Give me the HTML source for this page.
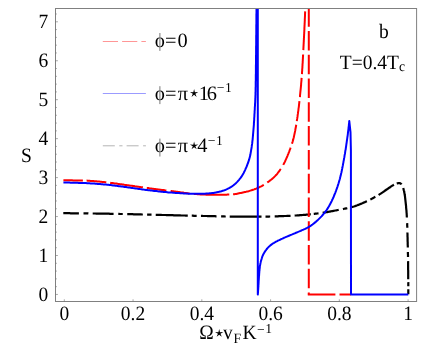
<!DOCTYPE html>
<html><head><meta charset="utf-8"><title>plot</title>
<style>
html,body{margin:0;padding:0;background:#fff;}
svg{display:block;will-change:transform;opacity:0.999;}
text{font-family:"Liberation Serif",serif;font-size:19.5px;fill:#000;text-rendering:geometricPrecision;}
</style></head><body>
<svg width="436" height="353" viewBox="0 0 436 353">
<rect x="0" y="0" width="436" height="353" fill="#fff"/>
<g fill="none" stroke-width="2" stroke-linejoin="round">
<path d="M63.3,213.2 L64.2,213.2 L65.1,213.2 L66.0,213.2 L67.0,213.2 L67.9,213.2 L68.8,213.2 L69.7,213.2 L70.6,213.3 L71.5,213.3 L72.4,213.3 L73.4,213.3 L74.3,213.3 L75.2,213.3 L76.1,213.3 L77.0,213.3 L77.9,213.3 L78.8,213.3 L79.7,213.3 L80.7,213.4 L81.6,213.4 L82.5,213.4 L83.4,213.4 L84.3,213.4 L85.2,213.4 L86.1,213.4 L87.1,213.4 L88.0,213.4 L88.9,213.5 L89.8,213.5 L90.7,213.5 L91.6,213.5 L92.5,213.5 L93.5,213.5 L94.4,213.5 L95.3,213.5 L96.2,213.6 L97.1,213.6 L98.0,213.6 L98.9,213.6 L99.8,213.6 L100.8,213.6 L101.7,213.6 L102.6,213.7 L103.5,213.7 L104.4,213.7 L105.3,213.7 L106.2,213.7 L107.2,213.7 L108.1,213.7 L109.0,213.7 L109.9,213.8 L110.8,213.8 L111.7,213.8 L112.6,213.8 L113.6,213.8 L114.5,213.8 L115.4,213.9 L116.3,213.9 L117.2,213.9 L118.1,213.9 L119.0,213.9 L119.9,214.0 L120.9,214.0 L121.8,214.0 L122.7,214.0 L123.6,214.0 L124.5,214.1 L125.4,214.1 L126.3,214.1 L127.3,214.1 L128.2,214.1 L129.1,214.2 L130.0,214.2 L130.9,214.2 L131.8,214.2 L132.7,214.2 L133.6,214.3 L134.6,214.3 L135.5,214.3 L136.4,214.3 L137.3,214.4 L138.2,214.4 L139.1,214.4 L140.0,214.4 L141.0,214.4 L141.9,214.5 L142.8,214.5 L143.7,214.5 L144.6,214.5 L145.5,214.6 L146.4,214.6 L147.4,214.6 L148.3,214.6 L149.2,214.6 L150.1,214.7 L151.0,214.7 L151.9,214.7 L152.8,214.7 L153.7,214.7 L154.7,214.8 L155.6,214.8 L156.5,214.8 L157.4,214.8 L158.3,214.9 L159.2,214.9 L160.1,214.9 L161.1,214.9 L162.0,215.0 L162.9,215.0 L163.8,215.0 L164.7,215.0 L165.6,215.0 L166.5,215.1 L167.4,215.1 L168.4,215.1 L169.3,215.1 L170.2,215.2 L171.1,215.2 L172.0,215.2 L172.9,215.2 L173.8,215.3 L174.8,215.3 L175.7,215.3 L176.6,215.3 L177.5,215.4 L178.4,215.4 L179.3,215.4 L180.2,215.4 L181.2,215.5 L182.1,215.5 L183.0,215.5 L183.9,215.5 L184.8,215.5 L185.7,215.6 L186.6,215.6 L187.5,215.6 L188.5,215.6 L189.4,215.7 L190.3,215.7 L191.2,215.7 L192.1,215.7 L193.0,215.7 L193.9,215.8 L194.9,215.8 L195.8,215.8 L196.7,215.8 L197.6,215.8 L198.5,215.9 L199.4,215.9 L200.3,215.9 L201.2,215.9 L202.2,215.9 L203.1,216.0 L204.0,216.0 L204.9,216.0 L205.8,216.0 L206.7,216.0 L207.6,216.1 L208.6,216.1 L209.5,216.1 L210.4,216.1 L211.3,216.2 L212.2,216.2 L213.1,216.2 L214.0,216.2 L215.0,216.2 L215.9,216.3 L216.8,216.3 L217.7,216.3 L218.6,216.3 L219.5,216.4 L220.4,216.4 L221.3,216.4 L222.3,216.4 L223.2,216.4 L224.1,216.4 L225.0,216.5 L225.9,216.5 L226.8,216.5 L227.7,216.5 L228.7,216.5 L229.6,216.6 L230.5,216.6 L231.4,216.6 L232.3,216.6 L233.2,216.6 L234.1,216.6 L235.0,216.6 L236.0,216.6 L236.9,216.7 L237.8,216.7 L238.7,216.7 L239.6,216.7 L240.5,216.7 L241.4,216.7 L242.4,216.7 L243.3,216.7 L244.2,216.7 L245.1,216.7 L246.0,216.7 L246.9,216.7 L247.8,216.7 L248.8,216.7 L249.7,216.7 L250.6,216.7 L251.5,216.7 L252.4,216.7 L253.3,216.7 L254.2,216.7 L255.2,216.7 L256.1,216.7 L257.0,216.7 L257.9,216.7 L258.8,216.7 L259.7,216.7 L260.6,216.7 L261.5,216.7 L262.5,216.7 L263.4,216.7 L264.3,216.7 L265.2,216.6 L266.1,216.6 L267.0,216.6 L267.9,216.6 L268.9,216.6 L269.8,216.5 L270.7,216.5 L271.6,216.5 L272.5,216.5 L273.4,216.4 L274.3,216.4 L275.3,216.4 L276.2,216.3 L277.1,216.3 L278.0,216.3 L278.9,216.2 L279.8,216.2 L280.7,216.2 L281.6,216.1 L282.6,216.1 L283.5,216.1 L284.4,216.0 L285.3,216.0 L286.2,216.0 L287.1,215.9 L288.0,215.9 L288.9,215.8 L289.9,215.8 L290.8,215.8 L291.7,215.7 L292.6,215.7 L293.5,215.6 L294.4,215.6 L295.3,215.5 L296.2,215.5 L297.2,215.4 L298.1,215.3 L299.0,215.3 L299.9,215.2 L300.8,215.1 L301.7,215.1 L302.6,215.0 L303.5,214.9 L304.5,214.8 L305.4,214.8 L306.3,214.7 L307.2,214.6 L308.1,214.5 L309.0,214.4 L309.9,214.3 L310.8,214.2 L311.7,214.1 L312.6,214.0 L313.5,213.9 L314.5,213.8 L315.4,213.7 L316.3,213.6 L317.2,213.5 L318.1,213.4 L319.0,213.3 L319.9,213.1 L320.8,213.0 L321.7,212.9 L322.6,212.8 L323.5,212.6 L324.4,212.5 L325.3,212.4 L326.2,212.2 L327.1,212.1 L328.0,211.9 L328.9,211.7 L329.8,211.6 L330.7,211.4 L331.6,211.2 L332.5,211.1 L333.4,210.9 L334.3,210.7 L335.2,210.5 L336.1,210.4 L337.0,210.2 L337.9,210.0 L338.8,209.8 L339.7,209.7 L340.6,209.5 L341.5,209.3 L342.4,209.2 L343.3,209.0 L344.2,208.8 L345.1,208.6 L346.0,208.4 L346.9,208.3 L347.8,208.1 L348.7,207.9 L349.6,207.7 L350.4,207.5 L351.3,207.2 L352.2,207.0 L353.1,206.7 L353.9,206.5 L354.8,206.2 L355.7,205.9 L356.5,205.5 L357.4,205.2 L358.2,204.9 L359.1,204.6 L359.9,204.2 L360.8,203.9 L361.6,203.5 L362.5,203.2 L363.3,202.8 L364.1,202.4 L365.0,202.1 L365.8,201.7 L366.6,201.3 L367.5,200.9 L368.3,200.5 L369.1,200.1 L369.9,199.7 L370.7,199.3 L371.6,198.9 L372.4,198.4 L373.2,198.0 L374.0,197.6 L374.8,197.1 L375.6,196.7 L376.4,196.2 L377.2,195.8 L378.0,195.3 L378.7,194.8 L379.5,194.4 L380.3,193.9 L381.1,193.4 L381.8,192.9 L382.6,192.4 L383.3,191.9 L384.1,191.3 L384.8,190.8 L385.6,190.3 L386.3,189.7 L387.1,189.2 L387.8,188.7 L388.6,188.2 L389.3,187.7 L390.1,187.2 L390.8,186.6 L391.6,186.1 L392.4,185.6 L393.2,185.2 L393.9,184.7 L394.8,184.3 L395.6,183.9 L396.4,183.5 L397.3,183.3 L398.2,183.2 L399.2,183.1 L400.0,183.2 L400.9,183.7 L401.5,184.3 L402.0,185.0 L402.4,185.8 L402.8,186.7 L403.1,187.6 L403.4,188.5 L403.6,189.4 L403.8,190.3 L404.1,191.2 L404.2,192.1 L404.4,193.0 L404.6,193.9 L404.7,194.8 L404.9,195.7 L405.0,196.6 L405.1,197.5 L405.2,198.4 L405.3,199.3 L405.4,200.2 L405.5,201.1 L405.6,202.0 L405.7,202.9 L405.8,203.8 L405.9,204.7 L406.0,205.7 L406.1,206.6 L406.1,207.5 L406.2,208.4 L406.3,209.3 L406.4,210.2 L406.5,211.1 L406.5,212.0 L406.6,212.9 L406.7,213.9 L406.7,214.8 L406.8,215.7 L406.8,216.6 L406.9,217.5 L406.9,218.4 L407.0,219.3 L407.0,220.2 L407.0,221.2 L407.1,222.1 L407.1,223.0 L407.2,223.9 L407.2,224.8 L407.2,225.7 L407.3,226.6 L407.3,227.5 L407.3,228.5 L407.3,229.4 L407.4,230.3 L407.4,231.2 L407.4,232.1 L407.4,233.0 L407.5,233.9 L407.5,234.9 L407.5,235.8 L407.5,236.7 L407.6,237.6 L407.6,238.5 L407.6,239.4 L407.6,240.3 L407.6,241.2 L407.7,242.2 L407.7,243.1 L407.7,244.0 L407.7,244.9 L407.8,245.8 L407.8,246.7 L407.8,247.6 L407.8,248.6 L407.8,249.5 L407.9,250.4 L407.9,251.3 L407.9,252.2 L407.9,253.1 L407.9,254.0 L408.0,254.9 L408.0,255.9 L408.0,256.8 L408.0,257.7 L408.0,258.6 L408.0,259.5 L408.0,260.4 L408.1,261.3 L408.1,262.3 L408.1,263.2 L408.1,264.1 L408.1,265.0 L408.1,265.9 L408.1,266.8 L408.1,267.7 L408.1,268.7 L408.1,269.6 L408.2,270.5 L408.2,271.4 L408.2,272.3 L408.2,273.2 L408.2,274.1 L408.2,275.0 L408.2,276.0 L408.2,276.9 L408.2,277.8 L408.2,278.7 L408.2,279.6 L408.2,280.5 L408.2,281.4 L408.3,282.4 L408.3,283.3 L408.3,284.2 L408.3,285.1 L408.3,286.0 L408.3,286.9 L408.3,287.8 L408.3,288.8 L408.3,289.7 L408.3,290.6 L408.3,291.5 L408.3,292.4 L408.3,293.3 L408.3,294.2" stroke="#000" stroke-width="2.2" stroke-dasharray="15.6 4.6 4.9 4.3 20.9 4.7 4.5 4.5 15.6 4.3 4.4 4.2 32.1 4.0 4.9 4.3 15.6 4.6 4.6 4.0 31.8 4.0 4.7 4.5 15.9 4.1 16.2 3.0 4.8 4.2 16.3 4.3 4.5 4.3 16.6 3.8 5.7 3.7 18.5 3.1 5.3 4.0 29.8 5.7 4.7 4.7 15.0 4.5 5.0 4.1 18.0 3.0 4.1 3.1 5.3 0 50"/>
<path d="M63.4,180.3 L64.4,180.3 L65.3,180.3 L66.3,180.3 L67.3,180.3 L68.3,180.3 L69.2,180.3 L70.2,180.3 L71.2,180.3 L72.1,180.3 L73.1,180.4 L74.1,180.4 L75.1,180.4 L76.0,180.4 L77.0,180.4 L78.0,180.4 L78.9,180.4 L79.9,180.4 L80.9,180.5 L81.8,180.5 L82.8,180.5 L83.8,180.5 L84.7,180.5 L85.7,180.6 L86.7,180.6 L87.7,180.7 L88.6,180.7 L89.6,180.8 L90.6,180.9 L91.5,180.9 L92.5,181.0 L93.5,181.1 L94.4,181.2 L95.4,181.3 L96.4,181.3 L97.3,181.4 L98.3,181.5 L99.3,181.6 L100.2,181.7 L101.2,181.8 L102.2,181.9 L103.1,182.0 L104.1,182.1 L105.1,182.2 L106.0,182.3 L107.0,182.4 L108.0,182.5 L108.9,182.6 L109.9,182.7 L110.8,182.9 L111.8,183.0 L112.8,183.1 L113.7,183.2 L114.7,183.4 L115.7,183.5 L116.6,183.6 L117.6,183.8 L118.5,183.9 L119.5,184.1 L120.5,184.2 L121.4,184.3 L122.4,184.5 L123.3,184.6 L124.3,184.8 L125.3,184.9 L126.2,185.0 L127.2,185.2 L128.2,185.3 L129.1,185.4 L130.1,185.6 L131.0,185.7 L132.0,185.8 L133.0,186.0 L133.9,186.1 L134.9,186.3 L135.8,186.4 L136.8,186.5 L137.8,186.7 L138.7,186.8 L139.7,186.9 L140.6,187.1 L141.6,187.2 L142.6,187.3 L143.5,187.5 L144.5,187.6 L145.4,187.7 L146.4,187.9 L147.4,188.0 L148.3,188.1 L149.3,188.3 L150.3,188.4 L151.2,188.5 L152.2,188.7 L153.1,188.8 L154.1,188.9 L155.1,189.0 L156.0,189.2 L157.0,189.3 L158.0,189.4 L158.9,189.5 L159.9,189.7 L160.8,189.8 L161.8,189.9 L162.8,190.0 L163.7,190.1 L164.7,190.3 L165.7,190.4 L166.6,190.5 L167.6,190.6 L168.5,190.7 L169.5,190.9 L170.5,191.0 L171.4,191.1 L172.4,191.2 L173.4,191.3 L174.3,191.5 L175.3,191.6 L176.3,191.7 L177.2,191.8 L178.2,192.0 L179.1,192.1 L180.1,192.2 L181.1,192.4 L182.0,192.5 L183.0,192.6 L184.0,192.8 L184.9,192.9 L185.9,193.0 L186.8,193.2 L187.8,193.3 L188.8,193.4 L189.7,193.5 L190.7,193.6 L191.7,193.7 L192.6,193.8 L193.6,193.9 L194.6,194.0 L195.5,194.0 L196.5,194.1 L197.5,194.2 L198.4,194.2 L199.4,194.3 L200.4,194.4 L201.3,194.4 L202.3,194.5 L203.3,194.5 L204.2,194.6 L205.2,194.6 L206.2,194.7 L207.2,194.7 L208.1,194.7 L209.1,194.8 L210.1,194.8 L211.0,194.8 L212.0,194.8 L213.0,194.8 L213.9,194.8 L214.9,194.8 L215.9,194.8 L216.9,194.8 L217.8,194.8 L218.8,194.8 L219.8,194.8 L220.8,194.7 L221.7,194.7 L222.7,194.7 L223.7,194.7 L224.6,194.7 L225.6,194.7 L226.6,194.7 L227.5,194.6 L228.5,194.6 L229.5,194.6 L230.4,194.5 L231.4,194.5 L232.4,194.4 L233.3,194.3 L234.3,194.2 L235.3,194.0 L236.2,193.9 L237.2,193.7 L238.1,193.5 L239.1,193.3 L240.1,193.1 L241.0,192.9 L242.0,192.7 L242.9,192.5 L243.9,192.3 L244.8,192.1 L245.8,191.9 L246.7,191.6 L247.6,191.4 L248.6,191.2 L249.5,190.9 L250.4,190.6 L251.4,190.3 L252.3,190.0 L253.2,189.7 L254.2,189.4 L255.1,189.0 L256.0,188.7 L256.9,188.3 L257.8,188.0 L258.6,187.6 L259.5,187.2 L260.4,186.7 L261.2,186.3 L262.1,185.8 L262.9,185.3 L263.8,184.8 L264.6,184.3 L265.4,183.7 L266.2,183.2 L267.0,182.7 L267.8,182.1 L268.6,181.6 L269.4,181.0 L270.2,180.4 L271.0,179.8 L271.7,179.2 L272.5,178.6 L273.2,177.9 L273.9,177.3 L274.6,176.6 L275.3,175.9 L275.9,175.2 L276.6,174.5 L277.2,173.8 L277.8,173.0 L278.4,172.2 L279.0,171.5 L279.6,170.7 L280.1,169.8 L280.7,169.0 L281.2,168.2 L281.7,167.4 L282.2,166.5 L282.7,165.7 L283.2,164.9 L283.7,164.0 L284.1,163.2 L284.6,162.3 L285.0,161.5 L285.4,160.6 L285.8,159.7 L286.2,158.8 L286.6,157.9 L287.0,157.0 L287.4,156.1 L287.7,155.2 L288.1,154.3 L288.5,153.4 L288.8,152.5 L289.2,151.6 L289.5,150.7 L289.8,149.8 L290.2,148.9 L290.5,148.0 L290.9,147.0 L291.2,146.1 L291.5,145.2 L291.8,144.3 L292.1,143.4 L292.4,142.4 L292.7,141.5 L292.9,140.6 L293.2,139.6 L293.4,138.7 L293.7,137.8 L293.9,136.8 L294.1,135.9 L294.3,134.9 L294.5,134.0 L294.7,133.0 L294.9,132.1 L295.1,131.1 L295.3,130.2 L295.4,129.2 L295.6,128.3 L295.8,127.3 L296.0,126.3 L296.1,125.4 L296.3,124.4 L296.4,123.5 L296.6,122.5 L296.7,121.5 L296.9,120.6 L297.0,119.6 L297.2,118.7 L297.3,117.7 L297.5,116.7 L297.6,115.8 L297.7,114.8 L297.9,113.9 L298.0,112.9 L298.1,111.9 L298.3,111.0 L298.4,110.0 L298.5,109.0 L298.6,108.1 L298.8,107.1 L298.9,106.2 L299.0,105.2 L299.1,104.2 L299.2,103.3 L299.3,102.3 L299.4,101.3 L299.5,100.4 L299.6,99.4 L299.7,98.4 L299.9,97.5 L300.0,96.5 L300.0,95.5 L300.1,94.6 L300.2,93.6 L300.3,92.6 L300.4,91.7 L300.5,90.7 L300.6,89.8 L300.7,88.8 L300.8,87.8 L300.9,86.9 L301.0,85.9 L301.1,84.9 L301.1,84.0 L301.2,83.0 L301.3,82.0 L301.4,81.0 L301.5,80.1 L301.5,79.1 L301.6,78.1 L301.7,77.2 L301.8,76.2 L301.8,75.2 L301.9,74.3 L302.0,73.3 L302.0,72.3 L302.1,71.4 L302.2,70.4 L302.2,69.4 L302.3,68.5 L302.4,67.5 L302.4,66.5 L302.5,65.6 L302.5,64.6 L302.6,63.6 L302.7,62.7 L302.7,61.7 L302.8,60.7 L302.8,59.7 L302.9,58.8 L302.9,57.8 L303.0,56.8 L303.0,55.9 L303.1,54.9 L303.1,53.9 L303.2,53.0 L303.2,52.0 L303.3,51.0 L303.3,50.1 L303.4,49.1 L303.4,48.1 L303.5,47.1 L303.5,46.2 L303.6,45.2 L303.6,44.2 L303.7,43.3 L303.7,42.3 L303.8,41.3 L303.8,40.4 L303.9,39.4 L303.9,38.4 L304.0,37.5 L304.0,36.5 L304.1,35.5 L304.1,34.5 L304.2,33.6 L304.2,32.6 L304.3,31.6 L304.3,30.7 L304.4,29.7 L304.4,28.7 L304.4,27.8 L304.5,26.8 L304.5,25.8 L304.6,24.9 L304.6,23.9 L304.7,22.9 L304.7,21.9 L304.8,21.0 L304.8,20.0 L304.8,19.0 L304.9,18.1 L304.9,17.1 L305.0,16.1 L305.0,15.2 L305.0,14.2 L305.1,13.2 L305.1,12.2 L305.2,11.3" stroke="#f00" stroke-dasharray="19.5 3.7 19.8 3.9 33.1 3.9 19.8 4.3 19.1 4.3 35.5 3.8 32.4 4.2 19.3 4.7 18.7 4.2 19.5 3.7 20.1 4.1 19.4 3.7 19.8 4.4 44.1 0.0"/>
<path d="M308.8,8.4 L308.8,294.5" stroke="#f00" stroke-dasharray="19.5 4.28" stroke-dashoffset="1.2"/>
<path d="M307.8,294.5 L335.4,294.5 M339.5,294.5 L351,294.5" stroke="#f00"/>
<path d="M63.4,182.6 L64.6,182.6 L65.8,182.6 L67.0,182.6 L68.1,182.6 L69.3,182.6 L70.5,182.7 L71.7,182.7 L72.9,182.7 L74.1,182.7 L75.3,182.8 L76.4,182.8 L77.6,182.8 L78.8,182.9 L80.0,182.9 L81.2,182.9 L82.4,183.0 L83.5,183.0 L84.7,183.1 L85.9,183.1 L87.1,183.2 L88.3,183.2 L89.5,183.3 L90.6,183.4 L91.8,183.4 L93.0,183.5 L94.2,183.6 L95.4,183.7 L96.6,183.8 L97.7,183.9 L98.9,184.0 L100.1,184.1 L101.3,184.2 L102.5,184.3 L103.6,184.4 L104.8,184.5 L106.0,184.6 L107.2,184.7 L108.4,184.8 L109.5,185.0 L110.7,185.1 L111.9,185.2 L113.1,185.4 L114.2,185.5 L115.4,185.7 L116.6,185.8 L117.8,186.0 L118.9,186.2 L120.1,186.3 L121.3,186.5 L122.5,186.6 L123.6,186.8 L124.8,187.0 L126.0,187.1 L127.2,187.3 L128.3,187.4 L129.5,187.6 L130.7,187.8 L131.9,187.9 L133.0,188.1 L134.2,188.2 L135.4,188.4 L136.6,188.6 L137.7,188.7 L138.9,188.9 L140.1,189.1 L141.3,189.2 L142.4,189.4 L143.6,189.6 L144.8,189.7 L146.0,189.9 L147.1,190.0 L148.3,190.2 L149.5,190.3 L150.7,190.5 L151.8,190.6 L153.0,190.7 L154.2,190.9 L155.4,191.0 L156.5,191.1 L157.7,191.3 L158.9,191.4 L160.1,191.5 L161.3,191.7 L162.4,191.8 L163.6,191.9 L164.8,192.0 L166.0,192.1 L167.2,192.2 L168.3,192.4 L169.5,192.5 L170.7,192.6 L171.9,192.6 L173.1,192.7 L174.2,192.8 L175.4,192.9 L176.6,193.0 L177.8,193.0 L179.0,193.1 L180.2,193.2 L181.3,193.3 L182.5,193.3 L183.7,193.4 L184.9,193.5 L186.1,193.5 L187.3,193.6 L188.4,193.7 L189.6,193.7 L190.8,193.7 L192.0,193.8 L193.2,193.8 L194.4,193.8 L195.6,193.8 L196.7,193.8 L197.9,193.8 L199.1,193.8 L200.3,193.8 L201.5,193.8 L202.7,193.8 L203.9,193.7 L205.0,193.7 L206.2,193.6 L207.4,193.5 L208.6,193.4 L209.8,193.3 L211.0,193.2 L212.1,193.1 L213.3,193.0 L214.5,192.8 L215.7,192.6 L216.8,192.3 L218.0,192.1 L219.2,191.8 L220.3,191.5 L221.5,191.2 L222.6,190.8 L223.7,190.5 L224.8,190.1 L225.9,189.7 L227.0,189.2 L228.0,188.7 L229.1,188.2 L230.1,187.5 L231.2,186.9 L232.2,186.2 L233.2,185.5 L234.1,184.7 L235.0,184.0 L235.9,183.2 L236.7,182.4 L237.5,181.6 L238.3,180.7 L239.1,179.8 L239.8,178.8 L240.6,177.9 L241.3,176.9 L241.9,175.9 L242.5,174.9 L243.1,173.9 L243.7,172.9 L244.2,171.8 L244.8,170.7 L245.3,169.6 L245.7,168.5 L246.2,167.5 L246.7,166.4 L247.1,165.3 L247.5,164.2 L248.0,163.0 L248.4,161.9 L248.7,160.8 L249.1,159.7 L249.4,158.5 L249.7,157.4 L250.0,156.2 L250.3,155.1 L250.5,153.9 L250.7,152.8 L250.9,151.6 L251.1,150.4 L251.3,149.2 L251.5,148.1 L251.7,146.9 L251.8,145.7 L252.0,144.6 L252.2,143.4 L252.3,142.2 L252.4,141.0 L252.6,139.8 L252.7,138.7 L252.8,137.5 L252.9,136.3 L253.0,135.1 L253.1,133.9 L253.2,132.8 L253.3,131.6 L253.4,130.4 L253.5,129.2 L253.6,128.0 L253.7,126.9 L253.8,125.7 L253.9,124.5 L253.9,123.3 L254.0,122.1 L254.1,120.9 L254.2,119.8 L254.2,118.6 L254.3,117.4 L254.4,116.2 L254.4,115.0 L254.5,113.8 L254.6,112.7 L254.6,111.5 L254.7,110.3 L254.8,109.1 L254.8,107.9 L254.9,106.7 L255.0,105.6 L255.0,104.4 L255.1,103.2 L255.2,102.0 L255.2,100.8 L255.3,99.6 L255.3,98.5 L255.4,97.3 L255.4,96.1 L255.5,94.9 L255.5,93.7 L255.5,92.5 L255.6,91.4 L255.6,90.2 L255.6,89.0 L255.6,87.8 L255.7,86.6 L255.7,85.4 L255.7,84.2 L255.7,83.1 L255.7,81.9 L255.8,80.7 L255.8,79.5 L255.8,78.3 L255.8,77.1 L255.8,76.0 L255.8,74.8 L255.9,73.6 L255.9,72.4 L255.9,71.2 L255.9,70.0 L255.9,68.8 L255.9,67.7 L255.9,66.5 L255.9,65.3 L256.0,64.1 L256.0,62.9 L256.0,61.7 L256.0,60.5 L256.0,59.4 L256.0,58.2 L256.0,57.0 L256.0,55.8 L256.1,54.6 L256.1,53.4 L256.1,52.2 L256.1,51.1 L256.1,49.9 L256.1,48.7 L256.1,47.5 L256.1,46.3 L256.2,45.1 L256.2,44.0 L256.2,42.8 L256.2,41.6 L256.2,40.4 L256.2,39.2 L256.2,38.0 L256.2,36.8 L256.2,35.7 L256.3,34.5 L256.3,33.3 L256.3,32.1 L256.3,30.9 L256.3,29.7 L256.3,28.5 L256.3,27.4 L256.3,26.2 L256.3,25.0 L256.4,23.8 L256.4,22.6 L256.4,21.4 L256.4,20.3 L256.4,19.1 L256.4,17.9 L256.4,16.7 L256.4,15.5 L256.4,14.3 L256.5,13.1 L256.5,12.0 L256.5,10.8 L256.5,9.6 L256.5,8.4 M257.8,8.4 L257.8,294.5 L257.8,294.5 L257.9,293.8 L257.9,293.1 L258.0,292.4 L258.0,291.7 L258.1,291.0 L258.1,290.3 L258.2,289.5 L258.2,288.8 L258.3,288.1 L258.3,287.4 L258.4,286.7 L258.4,286.0 L258.4,285.3 L258.5,284.6 L258.5,283.9 L258.6,283.2 L258.6,282.5 L258.6,281.8 L258.7,281.0 L258.7,280.3 L258.8,279.6 L258.8,278.9 L258.9,278.2 L258.9,277.5 L258.9,276.8 L259.0,276.1 L259.1,275.4 L259.1,274.7 L259.2,274.0 L259.2,273.3 L259.3,272.5 L259.3,271.8 L259.4,271.1 L259.5,270.4 L259.5,269.7 L259.6,269.0 L259.7,268.3 L259.8,267.6 L259.8,266.9 L259.9,266.2 L260.0,265.5 L260.2,264.8 L260.3,264.1 L260.4,263.4 L260.6,262.7 L260.7,262.0 L260.9,261.3 L261.1,260.6 L261.3,259.9 L261.5,259.2 L261.7,258.6 L261.9,257.9 L262.1,257.2 L262.3,256.6 L262.6,255.9 L262.9,255.3 L263.2,254.6 L263.5,254.0 L263.9,253.3 L264.2,252.7 L264.6,252.1 L265.0,251.5 L265.4,250.9 L265.8,250.3 L266.2,249.8 L266.6,249.2 L267.1,248.7 L267.5,248.1 L268.0,247.6 L268.5,247.1 L269.1,246.6 L269.6,246.1 L270.1,245.6 L270.7,245.2 L271.2,244.7 L271.8,244.3 L272.3,243.9 L272.9,243.5 L273.5,243.1 L274.1,242.8 L274.7,242.4 L275.3,242.1 L276.0,241.7 L276.6,241.4 L277.2,241.1 L277.9,240.7 L278.5,240.4 L279.2,240.1 L279.8,239.8 L280.5,239.5 L281.1,239.2 L281.7,238.9 L282.4,238.6 L283.0,238.3 L283.7,238.0 L284.3,237.7 L285.0,237.4 L285.6,237.1 L286.3,236.8 L286.9,236.6 L287.6,236.3 L288.2,236.0 L288.9,235.8 L289.6,235.5 L290.2,235.2 L290.9,234.9 L291.5,234.7 L292.2,234.4 L292.8,234.1 L293.5,233.8 L294.1,233.6 L294.8,233.3 L295.4,233.0 L296.1,232.7 L296.8,232.5 L297.4,232.2 L298.1,231.9 L298.7,231.6 L299.4,231.4 L300.0,231.1 L300.7,230.8 L301.3,230.5 L302.0,230.2 L302.6,229.9 L303.3,229.7 L303.9,229.4 L304.6,229.1 L305.2,228.8 L305.9,228.5 L306.5,228.2 L307.1,227.9 L307.8,227.5 L308.4,227.2 L309.0,226.8 L309.6,226.5 L310.2,226.1 L310.8,225.7 L311.4,225.3 L311.9,224.9 L312.5,224.5 L313.1,224.0 L313.7,223.6 L314.2,223.1 L314.8,222.7 L315.3,222.2 L315.9,221.8 L316.4,221.3 L317.0,220.8 L317.5,220.4 L318.0,219.9 L318.5,219.4 L319.0,218.9 L319.5,218.4 L320.0,217.9 L320.5,217.4 L321.0,216.9 L321.5,216.4 L322.0,215.8 L322.4,215.3 L322.9,214.8 L323.4,214.2 L323.8,213.7 L324.3,213.1 L324.7,212.5 L325.2,212.0 L325.6,211.4 L326.0,210.8 L326.4,210.3 L326.8,209.7 L327.2,209.1 L327.6,208.5 L328.0,207.9 L328.3,207.3 L328.7,206.7 L329.0,206.1 L329.4,205.5 L329.7,204.9 L330.1,204.3 L330.4,203.6 L330.7,203.0 L331.1,202.4 L331.4,201.7 L331.7,201.1 L332.0,200.4 L332.3,199.8 L332.6,199.1 L332.9,198.5 L333.2,197.8 L333.5,197.2 L333.8,196.5 L334.0,195.9 L334.3,195.2 L334.6,194.5 L334.8,193.9 L335.1,193.2 L335.4,192.6 L335.6,191.9 L335.9,191.2 L336.1,190.6 L336.3,189.9 L336.6,189.3 L336.8,188.6 L337.1,187.9 L337.3,187.2 L337.5,186.6 L337.7,185.9 L338.0,185.2 L338.2,184.5 L338.4,183.8 L338.6,183.2 L338.8,182.5 L339.0,181.8 L339.2,181.1 L339.4,180.4 L339.6,179.8 L339.8,179.1 L340.0,178.4 L340.1,177.7 L340.3,177.0 L340.5,176.3 L340.7,175.6 L340.8,175.0 L341.0,174.3 L341.1,173.6 L341.3,172.9 L341.5,172.2 L341.6,171.5 L341.8,170.8 L341.9,170.1 L342.0,169.4 L342.2,168.7 L342.3,168.0 L342.5,167.3 L342.6,166.6 L342.7,165.9 L342.9,165.2 L343.0,164.5 L343.1,163.8 L343.3,163.1 L343.4,162.4 L343.5,161.7 L343.6,161.0 L343.8,160.3 L343.9,159.6 L344.0,158.9 L344.1,158.2 L344.3,157.5 L344.4,156.8 L344.5,156.1 L344.6,155.4 L344.7,154.7 L344.9,154.0 L345.0,153.3 L345.1,152.6 L345.2,151.9 L345.3,151.2 L345.4,150.5 L345.6,149.8 L345.7,149.1 L345.8,148.4 L345.9,147.7 L346.0,147.0 L346.1,146.3 L346.2,145.6 L346.3,144.9 L346.4,144.2 L346.5,143.5 L346.6,142.8 L346.7,142.1 L346.8,141.4 L346.9,140.7 L347.0,140.0 L347.1,139.3 L347.2,138.6 L347.3,137.9 L347.4,137.2 L347.5,136.5 L347.6,135.8 L347.7,135.1 L347.8,134.4 L347.9,133.7 L347.9,133.0 L348.0,132.3 L348.1,131.6 L348.2,130.9 L348.3,130.2 L348.4,129.5 L348.5,128.8 L348.5,128.1 L348.6,127.4 L348.7,126.6 L348.8,125.9 L348.9,125.2 L348.9,124.5 L349.0,123.8 L349.1,123.1 L349.2,122.4 L349.2,121.7 L349.3,121.0 L350.5,132 L350.9,150 L351,294.5 L408.3,294.5" stroke="#00f"/>
</g>
<rect x="55.5" y="8.5" width="361.1" height="293.0" fill="none" stroke="#808080" stroke-width="1"/>
<g stroke="#707070" stroke-width="0.6">
<line x1="64.30" y1="301.5" x2="64.30" y2="299.3"/><line x1="133.06" y1="301.5" x2="133.06" y2="299.3"/><line x1="201.82" y1="301.5" x2="201.82" y2="299.3"/><line x1="270.58" y1="301.5" x2="270.58" y2="299.3"/><line x1="339.34" y1="301.5" x2="339.34" y2="299.3"/><line x1="408.10" y1="301.5" x2="408.10" y2="299.3"/><line x1="55.5" y1="294.45" x2="57.9" y2="294.45"/><line x1="55.5" y1="286.66" x2="56.9" y2="286.66"/><line x1="55.5" y1="278.87" x2="56.9" y2="278.87"/><line x1="55.5" y1="271.08" x2="56.9" y2="271.08"/><line x1="55.5" y1="263.29" x2="56.9" y2="263.29"/><line x1="55.5" y1="255.50" x2="57.9" y2="255.50"/><line x1="55.5" y1="247.71" x2="56.9" y2="247.71"/><line x1="55.5" y1="239.92" x2="56.9" y2="239.92"/><line x1="55.5" y1="232.13" x2="56.9" y2="232.13"/><line x1="55.5" y1="224.34" x2="56.9" y2="224.34"/><line x1="55.5" y1="216.55" x2="57.9" y2="216.55"/><line x1="55.5" y1="208.76" x2="56.9" y2="208.76"/><line x1="55.5" y1="200.97" x2="56.9" y2="200.97"/><line x1="55.5" y1="193.18" x2="56.9" y2="193.18"/><line x1="55.5" y1="185.39" x2="56.9" y2="185.39"/><line x1="55.5" y1="177.60" x2="57.9" y2="177.60"/><line x1="55.5" y1="169.81" x2="56.9" y2="169.81"/><line x1="55.5" y1="162.02" x2="56.9" y2="162.02"/><line x1="55.5" y1="154.23" x2="56.9" y2="154.23"/><line x1="55.5" y1="146.44" x2="56.9" y2="146.44"/><line x1="55.5" y1="138.65" x2="57.9" y2="138.65"/><line x1="55.5" y1="130.86" x2="56.9" y2="130.86"/><line x1="55.5" y1="123.07" x2="56.9" y2="123.07"/><line x1="55.5" y1="115.28" x2="56.9" y2="115.28"/><line x1="55.5" y1="107.49" x2="56.9" y2="107.49"/><line x1="55.5" y1="99.70" x2="57.9" y2="99.70"/><line x1="55.5" y1="91.91" x2="56.9" y2="91.91"/><line x1="55.5" y1="84.12" x2="56.9" y2="84.12"/><line x1="55.5" y1="76.33" x2="56.9" y2="76.33"/><line x1="55.5" y1="68.54" x2="56.9" y2="68.54"/><line x1="55.5" y1="60.75" x2="57.9" y2="60.75"/><line x1="55.5" y1="52.96" x2="56.9" y2="52.96"/><line x1="55.5" y1="45.17" x2="56.9" y2="45.17"/><line x1="55.5" y1="37.38" x2="56.9" y2="37.38"/><line x1="55.5" y1="29.59" x2="56.9" y2="29.59"/><line x1="55.5" y1="21.80" x2="57.9" y2="21.80"/><line x1="55.5" y1="14.01" x2="56.9" y2="14.01"/>
</g>
<text transform="translate(64.30,320.10) scale(0.956,1)" text-anchor="middle" style="font-size:20.4px">0</text><text transform="translate(133.06,320.10) scale(0.956,1)" text-anchor="middle" style="font-size:20.4px">0.2</text><text transform="translate(201.82,320.10) scale(0.956,1)" text-anchor="middle" style="font-size:20.4px">0.4</text><text transform="translate(270.58,320.10) scale(0.956,1)" text-anchor="middle" style="font-size:20.4px">0.6</text><text transform="translate(339.34,320.10) scale(0.956,1)" text-anchor="middle" style="font-size:20.4px">0.8</text><text transform="translate(408.10,320.10) scale(0.956,1)" text-anchor="middle" style="font-size:20.4px">1</text><text transform="translate(48.30,300.75) scale(0.956,1)" text-anchor="end" style="font-size:20.4px">0</text><text transform="translate(48.30,261.80) scale(0.956,1)" text-anchor="end" style="font-size:20.4px">1</text><text transform="translate(48.30,222.85) scale(0.956,1)" text-anchor="end" style="font-size:20.4px">2</text><text transform="translate(48.30,183.90) scale(0.956,1)" text-anchor="end" style="font-size:20.4px">3</text><text transform="translate(48.30,144.95) scale(0.956,1)" text-anchor="end" style="font-size:20.4px">4</text><text transform="translate(48.30,106.00) scale(0.956,1)" text-anchor="end" style="font-size:20.4px">5</text><text transform="translate(48.30,67.05) scale(0.956,1)" text-anchor="end" style="font-size:20.4px">6</text><text transform="translate(48.30,28.10) scale(0.956,1)" text-anchor="end" style="font-size:20.4px">7</text>
<line x1="102.8" y1="41.5" x2="145.9" y2="41.5" stroke="#ff6868" stroke-width="0.7" stroke-dasharray="15.2 4.1"/><line x1="102.8" y1="93.5" x2="145.9" y2="93.5" stroke="#7070ff" stroke-width="0.7"/><line x1="102.8" y1="145.8" x2="145.9" y2="145.8" stroke="#b4b4b4" stroke-width="1" stroke-dasharray="12 4.5 3.2 4.1" /><text transform="translate(154.70,46.60) scale(0.999,1)" style="font-size:20.4px">o</text><line x1="159.9" y1="33.0" x2="159.9" y2="50.9" stroke="#777" stroke-width="1"/><text transform="translate(165.00,46.60) scale(0.999,1)" style="font-size:20.4px">=</text><text transform="translate(177.40,46.60) scale(0.999,1)" style="font-size:20.4px">0</text><text transform="translate(154.70,99.80) scale(0.999,1)" style="font-size:20.4px">o</text><line x1="159.9" y1="86.2" x2="159.9" y2="104.1" stroke="#777" stroke-width="1"/><text transform="translate(165.00,99.80) scale(0.999,1)" style="font-size:20.4px">=</text><text transform="translate(177.80,99.80) scale(0.999,1)" style="font-size:20.4px">π</text><polygon points="194.10,89.00 194.89,92.31 198.28,92.04 195.38,93.82 196.69,96.96 194.10,94.75 191.51,96.96 192.82,93.82 189.92,92.04 193.31,92.31" fill="#000"/><text transform="translate(198.80,99.80) scale(0.999,1)" style="font-size:20.4px">1</text><text transform="translate(206.70,99.80) scale(0.999,1)" style="font-size:20.4px">6</text><text transform="translate(216.80,92.40) scale(0.999,1)" style="font-size:13.65px">−</text><text transform="translate(225.00,92.00) scale(0.999,1)" style="font-size:13.65px">1</text><text transform="translate(154.70,152.20) scale(0.999,1)" style="font-size:20.4px">o</text><line x1="159.9" y1="138.6" x2="159.9" y2="156.5" stroke="#777" stroke-width="1"/><text transform="translate(165.00,152.20) scale(0.999,1)" style="font-size:20.4px">=</text><text transform="translate(177.80,152.20) scale(0.999,1)" style="font-size:20.4px">π</text><polygon points="194.10,141.40 194.89,144.71 198.28,144.44 195.38,146.22 196.69,149.36 194.10,147.15 191.51,149.36 192.82,146.22 189.92,144.44 193.31,144.71" fill="#000"/><text transform="translate(197.20,152.20) scale(0.999,1)" style="font-size:20.4px">4</text><text transform="translate(207.80,144.90) scale(0.999,1)" style="font-size:13.65px">−</text><text transform="translate(216.00,144.50) scale(0.999,1)" style="font-size:13.65px">1</text>
<text transform="translate(379.00,37.80) scale(0.956,1)" text-anchor="start" style="font-size:20.4px">b</text><text transform="translate(339.80,68.70) scale(0.956,1)" text-anchor="start" style="font-size:20.4px">T=0.4T</text><text transform="translate(399.00,71.40) scale(0.956,1)" text-anchor="start" style="font-size:14.3px">c</text><text transform="translate(21.00,162.00) scale(0.956,1)" text-anchor="start" style="font-size:20.4px">S</text><text transform="translate(199.30,339.40) scale(0.956,1)" text-anchor="start" style="font-size:20.4px">Ω</text><polygon points="219.20,328.90 219.99,332.21 223.38,331.94 220.48,333.72 221.79,336.86 219.20,334.65 216.61,336.86 217.92,333.72 215.02,331.94 218.41,332.21" fill="#000"/><text transform="translate(223.10,339.40) scale(0.956,1)" text-anchor="start" style="font-size:20.4px">v</text><text transform="translate(233.50,343.00) scale(0.956,1)" text-anchor="start" style="font-size:14.3px">F</text><text transform="translate(242.60,339.40) scale(0.956,1)" text-anchor="start" style="font-size:20.4px">K</text><text transform="translate(257.00,333.80) scale(0.999,1)" style="font-size:13.65px">−</text><text transform="translate(265.20,333.40) scale(0.999,1)" style="font-size:13.65px">1</text>
</svg>
</body></html>
